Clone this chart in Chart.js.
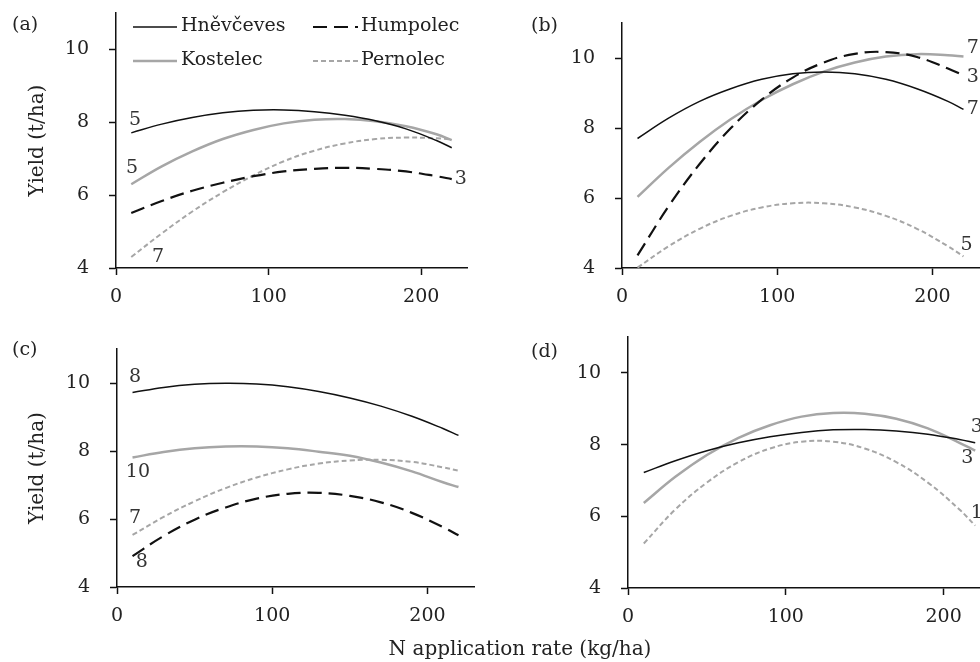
<!DOCTYPE html>
<html>
<head>
<meta charset="utf-8">
<script src="https://cdn.jsdelivr.net/npm/chart.js@4.4.1/dist/chart.umd.min.js"></script>
<style>
  body { margin: 0; width: 980px; height: 662px; overflow: hidden; background: #fff; position: relative;
         font-family: "DejaVu Serif", serif; color: #222; }
  canvas { position: absolute; }
  .tag { position: absolute; font-size: 19px; line-height: 20px; }
  #xTitle { position: absolute; left: 320px; width: 400px; top: 636px; line-height: 24px;
            font-size: 20px; text-align: center; }
</style>
</head>
<body>
<canvas id="chartA" width="490" height="320" style="left:0;top:0"></canvas>
<canvas id="chartB" width="490" height="320" style="left:490px;top:0"></canvas>
<canvas id="chartC" width="490" height="342" style="left:0;top:320px"></canvas>
<canvas id="chartD" width="510" height="342" style="left:490px;top:320px"></canvas>
<div class="tag" style="left:12px;top:13px">(a)</div>
<div class="tag" style="left:531px;top:14px">(b)</div>
<div class="tag" style="left:12px;top:338px">(c)</div>
<div class="tag" style="left:531px;top:340px">(d)</div>
<div id="xTitle">N application rate (kg/ha)</div>
<script>
const nRate = [10, 30, 50, 70, 90, 110, 130, 150, 170, 190, 210, 220];
const xTicks = [0, 100, 200];
const yTicks = [4, 6, 8, 10];

// (a)
const hnevA = [7.71, 7.95, 8.13, 8.26, 8.33, 8.34, 8.29, 8.19, 8.04, 7.82, 7.50, 7.30];
const humpA = [5.51, 5.84, 6.12, 6.34, 6.52, 6.65, 6.72, 6.75, 6.72, 6.65, 6.52, 6.44];
const kostA = [6.30, 6.79, 7.20, 7.54, 7.79, 7.97, 8.07, 8.09, 8.03, 7.89, 7.67, 7.51];
const pernA = [4.30, 4.95, 5.55, 6.08, 6.54, 6.93, 7.22, 7.42, 7.54, 7.58, 7.56, 7.53];
// (b)
const hnevB = [7.70, 8.28, 8.76, 9.12, 9.39, 9.55, 9.60, 9.55, 9.39, 9.12, 8.76, 8.53];
const humpB = [4.36, 5.76, 6.97, 7.99, 8.81, 9.44, 9.87, 10.12, 10.17, 10.03, 9.70, 9.50];
const kostB = [6.03, 6.86, 7.60, 8.25, 8.80, 9.25, 9.61, 9.87, 10.04, 10.11, 10.08, 10.04];
const pernB = [4.01, 4.62, 5.12, 5.49, 5.73, 5.85, 5.85, 5.73, 5.49, 5.12, 4.62, 4.33];
// (c)
const hnevC = [9.72, 9.87, 9.96, 9.99, 9.97, 9.89, 9.75, 9.56, 9.32, 9.02, 8.66, 8.46];
const humpC = [4.91, 5.50, 5.98, 6.34, 6.60, 6.74, 6.77, 6.68, 6.49, 6.18, 5.76, 5.52];
const kostC = [7.81, 7.97, 8.08, 8.13, 8.13, 8.08, 7.98, 7.86, 7.66, 7.40, 7.08, 6.94];
const pernC = [5.53, 6.06, 6.52, 6.91, 7.22, 7.46, 7.63, 7.72, 7.74, 7.68, 7.52, 7.42];
// (d) - no Humpolec curve
const hnevD = [7.22, 7.55, 7.83, 8.05, 8.22, 8.34, 8.41, 8.42, 8.38, 8.29, 8.14, 8.05];
const kostD = [6.37, 7.10, 7.71, 8.19, 8.54, 8.78, 8.88, 8.86, 8.72, 8.45, 8.05, 7.83];
const pernD = [5.24, 6.19, 6.94, 7.51, 7.89, 8.08, 8.08, 7.89, 7.51, 6.94, 6.19, 5.74];

// numbers written next to the curves (data units)
const notesA = [
  { x: 12.4, y: 8.06, text: '5' },
  { x: 10.5, y: 6.74, text: '5' },
  { x: 27.5, y: 4.29, text: '7' },
  { x: 226, y: 6.44, text: '3' },
];
const notesB = [
  { x: 226, y: 10.28, text: '7' },
  { x: 226, y: 9.45, text: '3' },
  { x: 226, y: 8.53, text: '7' },
  { x: 222, y: 4.65, text: '5' },
];
const notesC = [
  { x: 11.6, y: 10.16, text: '8' },
  { x: 13.5, y: 7.37, text: '10' },
  { x: 11.6, y: 6.02, text: '7' },
  { x: 16, y: 4.73, text: '8' },
];
const notesD = [
  { x: 221, y: 8.48, text: '3' },
  { x: 215, y: 7.62, text: '3' },
  { x: 221, y: 6.10, text: '1' },
];

const FONT = '"DejaVu Serif", serif';
const BLACK = '#111';
const GREY = '#a6a6a6';

const siteStyle = {
  'Hněvčeves': { borderColor: BLACK, borderWidth: 1.5 },
  'Humpolec': { borderColor: BLACK, borderWidth: 2.2, borderDash: [14, 7] },
  'Kostelec': { borderColor: GREY, borderWidth: 2.5 },
  'Pernolec': { borderColor: GREY, borderWidth: 2, borderDash: [5, 3] },
};

function series(name, values) {
  return {
    label: name,
    data: values.map((v, i) => ({ x: nRate[i], y: v })),
    fill: false,
    pointRadius: 0,
    tension: 0.4,
    ...siteStyle[name],
  };
}

function notesPlugin(notes) {
  return {
    id: 'curveNotes',
    afterDatasetsDraw(chart) {
      const { ctx, scales: { x, y } } = chart;
      ctx.save();
      ctx.font = '19px ' + FONT;
      ctx.fillStyle = '#333';
      ctx.textAlign = 'center';
      ctx.textBaseline = 'middle';
      notes.forEach(n => ctx.fillText(n.text, x.getPixelForValue(n.x), y.getPixelForValue(n.y)));
      ctx.restore();
    },
  };
}

// legend of panel (a), two columns inside the plot
const legendPlugin = {
  id: 'siteLegend',
  afterDraw(chart) {
    const ctx = chart.ctx;
    const spots = [
      { name: 'Hněvčeves', x0: 133, x1: 177, tx: 181, y: 27, ty: 31 },
      { name: 'Humpolec', x0: 313, x1: 358, tx: 361, y: 27, ty: 31 },
      { name: 'Kostelec', x0: 133, x1: 177, tx: 181, y: 61, ty: 65 },
      { name: 'Pernolec', x0: 313, x1: 358, tx: 361, y: 61, ty: 65 },
    ];
    ctx.save();
    spots.forEach(s => {
      const st = siteStyle[s.name];
      ctx.strokeStyle = st.borderColor;
      ctx.lineWidth = st.borderWidth;
      ctx.setLineDash(st.borderDash || []);
      ctx.beginPath();
      ctx.moveTo(s.x0, s.y);
      ctx.lineTo(s.x1, s.y);
      ctx.stroke();
      ctx.setLineDash([]);
      ctx.fillStyle = '#222';
      ctx.font = '19px ' + FONT;
      ctx.textAlign = 'left';
      ctx.textBaseline = 'alphabetic';
      ctx.fillText(s.name, s.tx, s.ty);
    });
    ctx.restore();
  },
};

// fixed scale sizes so the plot areas sit where the reference has them
function pinHeight(h) {
  return s => { s.height = h; s.paddingLeft = 0; s.paddingRight = 0; };
}
function pinWidth(w) {
  return s => { s.width = w; s.paddingTop = 0; s.paddingBottom = 0; };
}

function makeChart(id, datasets, box, notes, withTitle, extra) {
  const axisLine = { display: true, color: BLACK, width: 1.5 };
  const tickGrid = { display: true, drawOnChartArea: false, drawTicks: true, tickLength: 7, tickWidth: 1.5, tickColor: BLACK };
  return new Chart(document.getElementById(id), {
    type: 'line',
    data: { datasets },
    options: {
      responsive: false,
      animation: false,
      events: [],
      layout: { padding: { top: box.top, right: box.right, left: 0, bottom: 0 } },
      plugins: { legend: { display: false }, tooltip: { enabled: false } },
      scales: {
        x: {
          type: 'linear',
          min: 0,
          max: 230,
          afterBuildTicks: s => { s.ticks = xTicks.map(v => ({ value: v })); },
          afterFit: pinHeight(box.xh),
          grid: tickGrid,
          border: axisLine,
          ticks: { color: '#222', font: { family: FONT, size: 19 }, padding: 11, maxRotation: 0 },
        },
        y: {
          type: 'linear',
          min: 4,
          max: 11,
          afterBuildTicks: s => { s.ticks = yTicks.map(v => ({ value: v })); },
          afterFit: pinWidth(box.yw),
          grid: tickGrid,
          border: axisLine,
          ticks: { color: '#222', font: { family: FONT, size: 19 }, padding: 20 },
          title: {
            display: withTitle,
            text: 'Yield (t/ha)',
            color: '#222',
            font: { family: FONT, size: 20 },
            padding: { top: 26, bottom: 0 },
          },
        },
      },
    },
    plugins: [notesPlugin(notes)].concat(extra || []),
  });
}

makeChart('chartA', [
  series('Hněvčeves', hnevA),
  series('Humpolec', humpA),
  series('Kostelec', kostA),
  series('Pernolec', pernA),
], { top: 13, right: 23, xh: 52, yw: 116 }, notesA, true, [legendPlugin]);

makeChart('chartB', [
  series('Hněvčeves', hnevB),
  series('Humpolec', humpB),
  series('Kostelec', kostB),
  series('Pernolec', pernB),
], { top: 23, right: 1, xh: 52, yw: 132 }, notesB, false);

makeChart('chartC', [
  series('Hněvčeves', hnevC),
  series('Humpolec', humpC),
  series('Kostelec', kostC),
  series('Pernolec', pernC),
], { top: 29, right: 16, xh: 75, yw: 117 }, notesC, true);

makeChart('chartD', [
  series('Hněvčeves', hnevD),
  series('Kostelec', kostD),
  series('Pernolec', pernD),
], { top: 17, right: 9, xh: 74, yw: 138 }, notesD, false);
</script>
</body>
</html>
